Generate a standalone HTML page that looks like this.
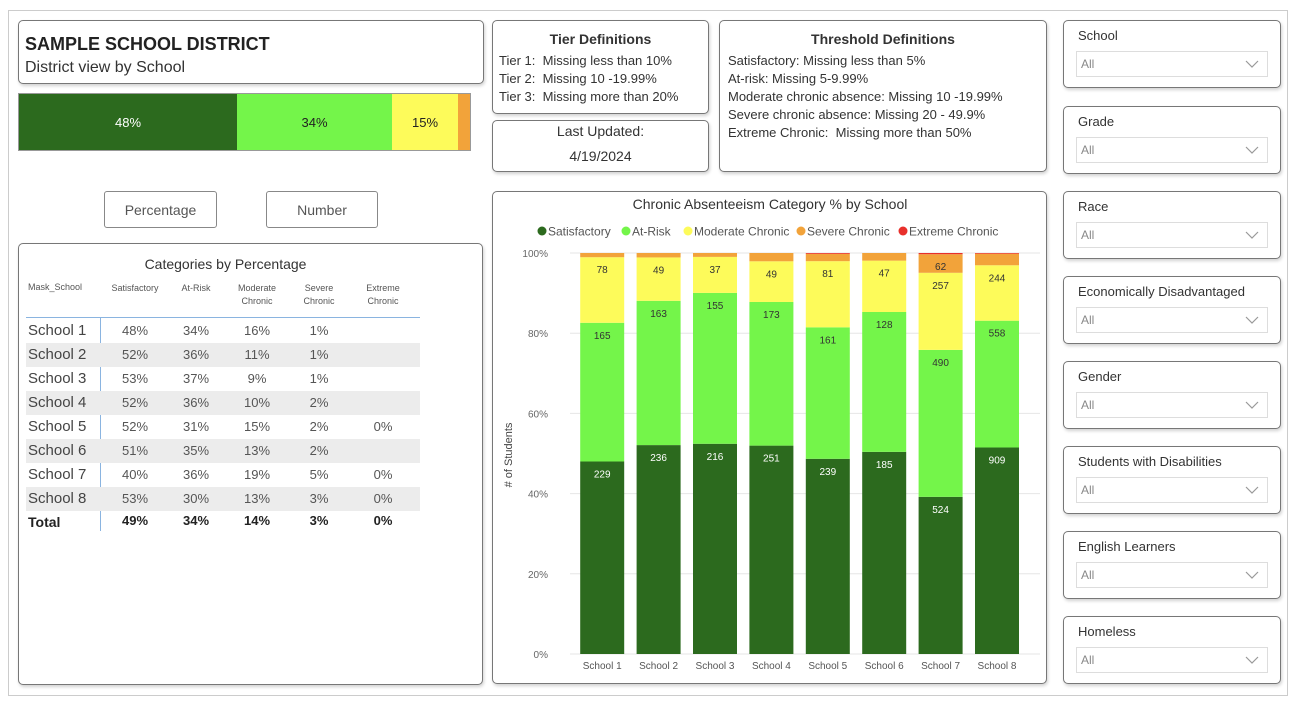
<!DOCTYPE html>
<html><head><meta charset="utf-8">
<style>
*{box-sizing:border-box}
body{margin:0;width:1298px;height:712px;background:#fff;font-family:"Liberation Sans",sans-serif;color:#333;position:relative;overflow:hidden}
.box{position:absolute;border:1px solid #777;border-radius:5px;background:#fff;box-shadow:1px 2px 3px rgba(0,0,0,0.18)}
.abs{position:absolute}
.slicer .lbl{position:absolute;left:14px;top:7px;font-size:13px;color:#333}
.slicer .dd{position:absolute;left:12px;right:12px;top:30px;height:26px;border:1px solid #ddd;font-size:12px;color:#888;padding:5px 0 0 4px}
.slicer .dd svg{position:absolute;right:8px;top:8px}
.tbl div{position:absolute}
</style></head><body>
<div class="abs" style="left:8px;top:10px;width:1280px;height:686px;border:1px solid #ccc"></div>

<div class="box" style="left:18px;top:20px;width:466px;height:64px">
 <div class="abs" style="left:6px;top:13px;font-size:18px;font-weight:bold;color:#222">SAMPLE SCHOOL DISTRICT</div>
 <div class="abs" style="left:6px;top:38px;font-size:16px;color:#333">District view by School</div>
</div>

<div class="abs" style="left:18px;top:93px;width:453px;height:58px;border:1px solid #999;display:flex;font-size:13px">
 <div style="width:218px;background:#2c6a1e;color:#fff;display:flex;align-items:center;justify-content:center">48%</div>
 <div style="width:155px;background:#74f54a;color:#222;display:flex;align-items:center;justify-content:center">34%</div>
 <div style="width:66px;background:#fdfb5a;color:#222;display:flex;align-items:center;justify-content:center">15%</div>
 <div style="flex:1;background:#f2a33a"></div>
</div>

<div class="abs" style="left:104px;top:191px;width:113px;height:37px;border:1px solid #888;border-radius:3px;font-size:14px;color:#555;text-align:center;line-height:36px">Percentage</div>
<div class="abs" style="left:266px;top:191px;width:112px;height:37px;border:1px solid #888;border-radius:3px;font-size:14px;color:#555;text-align:center;line-height:36px">Number</div>

<div class="box tbl" style="left:18px;top:243px;width:465px;height:442px">
</div>

<div class="box" style="left:492px;top:20px;width:217px;height:94px;font-size:13px">
 <div class="abs" style="left:0;right:0;top:10px;text-align:center;font-weight:bold;font-size:14px">Tier Definitions</div>
 <div class="abs" style="left:6px;top:31px;line-height:18px">Tier 1:&nbsp; Missing less than 10%<br>Tier 2:&nbsp; Missing 10 -19.99%<br>Tier 3:&nbsp; Missing more than 20%</div>
</div>
<div class="box" style="left:492px;top:120px;width:217px;height:52px;font-size:14px;text-align:center">
 <div class="abs" style="left:0;right:0;top:2px">Last Updated:</div>
 <div class="abs" style="left:0;right:0;top:27px">4/19/2024</div>
</div>
<div class="box" style="left:719px;top:20px;width:328px;height:152px;font-size:13px">
 <div class="abs" style="left:0;right:0;top:10px;text-align:center;font-weight:bold;font-size:14px">Threshold Definitions</div>
 <div class="abs" style="left:8px;top:31px;line-height:18px">Satisfactory: Missing less than 5%<br>At-risk: Missing 5-9.99%<br>Moderate chronic absence: Missing 10 -19.99%<br>Severe chronic absence: Missing 20 - 49.9%<br>Extreme Chronic:&nbsp; Missing more than 50%</div>
</div>

<div class="box" style="left:492px;top:191px;width:555px;height:493px"></div>
<svg class="abs" id="chart" style="left:0;top:0" width="1298" height="712"></svg>

<div id="slicers"></div>

<script>
const schools=["School 1","School 2","School 3","School 4","School 5","School 6","School 7","School 8"];
const satisfactory=[229,236,216,251,239,185,524,909];
const atRisk=[165,163,155,173,161,128,490,558];
const moderate=[78,49,37,49,81,47,257,244];
const severe=[5,5,4,10,9,7,62,51];
const extreme=[0,0,0,0,1,0,4,3];
const yTicks=[0,20,40,60,80,100];
const seriesNames=["Satisfactory","At-Risk","Moderate Chronic","Severe Chronic","Extreme Chronic"];
const seriesColors=["#2c6a1e","#74f54a","#fdfb5a","#f2a33a","#e8302b"];

const tblSat=["48%","52%","53%","52%","52%","51%","40%","53%"];
const tblRisk=["34%","36%","37%","36%","31%","35%","36%","30%"];
const tblMod=["16%","11%","9%","10%","15%","13%","19%","13%"];
const tblSev=["1%","1%","1%","2%","2%","2%","5%","3%"];
const tblExt=["","","","","0%","","0%","0%"];
const tblTotal=["49%","34%","14%","3%","0%"];

const slicerNames=["School","Grade","Race","Economically Disadvantaged","Gender","Students with Disabilities","English Learners","Homeless"];

const NS="http://www.w3.org/2000/svg";
const svg=document.getElementById('chart');
function mk(tag,attrs,parent){const e=document.createElementNS(NS,tag);for(const k in attrs)e.setAttribute(k,attrs[k]);(parent||svg).appendChild(e);return e;}
const y0=654,y1=253,xStart=574,step=56.4,bw=44;
const yScale=p=>y0-(y0-y1)*p/100;
const xScale=i=>xStart+step*(i+0.5);

let t=mk('text',{x:770,y:209,'text-anchor':'middle','font-size':14,fill:'#333'});t.textContent="Chronic Absenteeism Category % by School";

let lx=[537,621,683,796,898];
seriesNames.forEach((n,i)=>{
 const g=mk('g',{});
 
 
 mk('circle',{cx:lx[i]+5,cy:231,r:4.5,fill:seriesColors[i]},g);
 const tx=mk('text',{x:lx[i]+11,y:235.5,'font-size':12,fill:'#555'},g);tx.textContent=n;
});
yTicks.forEach(v=>{
 const y=yScale(v);
 const l=mk('line',{x1:570,x2:1040,y1:y,y2:y,stroke:'#e6e6e6'});
 
 const tx=mk('text',{x:548,y:y+4,'text-anchor':'end','font-size':10,fill:'#666'});tx.textContent=v+"%";
 
});
const yt=mk('text',{x:0,y:0,transform:'translate(512,455) rotate(-90)','text-anchor':'middle','font-size':11,fill:'#444'});yt.textContent="# of Students";

const series=[satisfactory,atRisk,moderate,severe,extreme];
schools.forEach((s,i)=>{
 const tot=series.reduce((a,arr)=>a+arr[i],0);
 let cum=0;
 series.forEach((arr,k)=>{
  const v=arr[i];if(!v)return;
  const yb=yScale(cum/tot*100);cum+=v;const yt2=yScale(cum/tot*100);
  const r=mk('rect',{x:xScale(i)-bw/2,y:yt2,width:bw,height:yb-yt2,fill:seriesColors[k]});
  
  
  if(yb-yt2>14){const lb=mk('text',{x:xScale(i),y:yt2+16,'text-anchor':'middle','font-size':10,fill:k==0?'#fff':'#333'});lb.textContent=v;
   }
 });
 const xl=mk('text',{x:xScale(i),y:669,'text-anchor':'middle','font-size':10,fill:'#555'});xl.textContent=s;
 
});

// table
const tb=document.querySelector('.tbl');
function div(html,style,name,parent){const d=document.createElement('div');d.innerHTML=html;d.style.cssText=style;
 
 
 (parent||tb).appendChild(d);return d;}
div("Categories by Percentage","left:0;right:50px;top:12px;text-align:center;font-size:14px;color:#333","table-title");
const cx=[116,177,238,300,364];
div("Mask_School","left:9px;top:38px;font-size:9px;color:#555","table-header");
["Satisfactory","At-Risk","Moderate<br>Chronic","Severe<br>Chronic","Extreme<br>Chronic"].forEach((h,j)=>div(h,`left:${cx[j]-35}px;width:70px;top:38px;text-align:center;font-size:9px;line-height:13px;color:#555`,"table-header"));
div("","left:7px;width:394px;top:73px;height:1px;background:#8ab4e0","header-rule");
div("","left:81px;width:1px;top:74px;height:213px;background:#8ab4e0","row-header-rule");
schools.forEach((s,i)=>{
 const top=75+i*24;
 if(i%2==1)div("",`left:7px;width:394px;top:${top}px;height:24px;background:#ececec`,"row-shade");
 div(s,`left:9px;top:${top+3}px;font-size:15px;color:#444`,"row-label");
 [tblSat,tblRisk,tblMod,tblSev,tblExt].forEach((a,j)=>div(a[i],`left:${cx[j]-30}px;width:60px;top:${top+4}px;text-align:center;font-size:13px;color:#555`,"table-cell"));
});
div("Total",`left:9px;top:270px;font-size:14px;font-weight:bold;color:#222`,"total-label");
tblTotal.forEach((v,j)=>div(v,`left:${cx[j]-30}px;width:60px;top:269px;text-align:center;font-size:13px;font-weight:bold;color:#222`,"total-cell"));

// slicers
const sl=document.getElementById('slicers');
const tops=[20,106,191,276,361,446,531,616];
slicerNames.forEach((n,i)=>{
 const b=document.createElement('div');b.className='box slicer';
 b.style.cssText=`left:1063px;top:${tops[i]}px;width:218px;height:68px`;
 
 
 b.innerHTML=`<div class="lbl">${n}</div><div class="dd">All<svg width="14" height="8"><polyline points="1,1 7,7 13,1" fill="none" stroke="#999" stroke-width="1.2"/></svg></div>`;
 sl.appendChild(b);
});
</script>
</body></html>
